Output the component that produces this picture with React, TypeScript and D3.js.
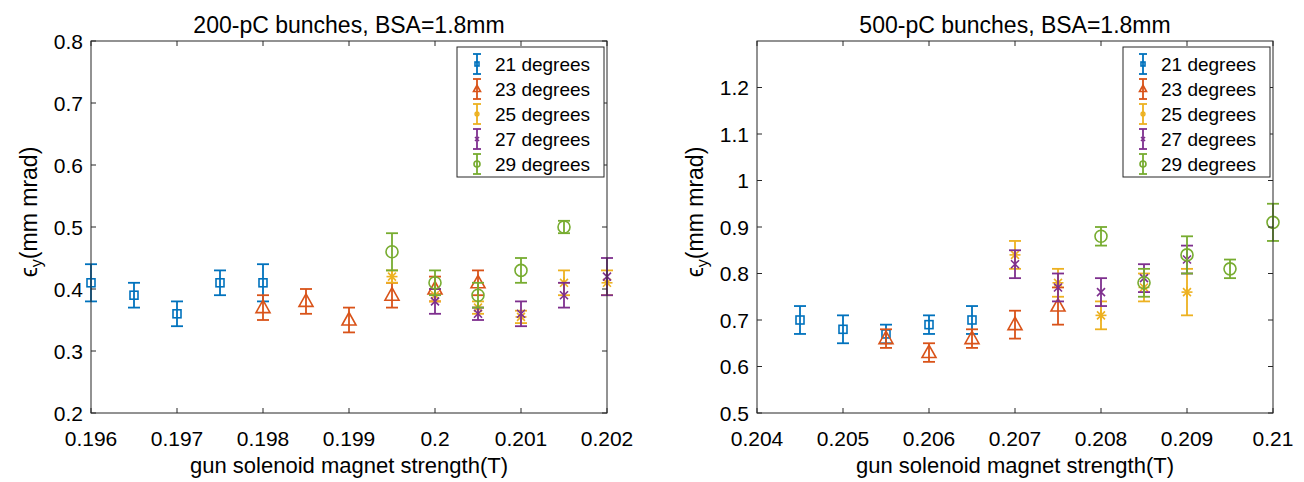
import React from "react";
import * as d3 from "d3";

const seriesLabels = ["21 degrees", "23 degrees", "25 degrees", "27 degrees", "29 degrees"];
const seriesColors = ["#0072BD", "#D95319", "#EDB120", "#7E2F8E", "#77AC30"];
const seriesMarkers = ["square", "triangle", "asterisk", "cross", "circle"];

// 200-pC panel
const a21x = [0.196, 0.1965, 0.197, 0.1975, 0.198];
const a21y = [0.41, 0.39, 0.36, 0.41, 0.41];
const a21e = [0.03, 0.02, 0.02, 0.02, 0.03];
const a23x = [0.198, 0.1985, 0.199, 0.1995, 0.2, 0.2005];
const a23y = [0.37, 0.38, 0.35, 0.39, 0.4, 0.41];
const a23e = [0.02, 0.02, 0.02, 0.02, 0.02, 0.02];
const a25x = [0.1995, 0.2, 0.2005, 0.201, 0.2015, 0.202];
const a25y = [0.42, 0.39, 0.37, 0.355, 0.41, 0.41];
const a25e = [0.01, 0.01, 0.01, 0.01, 0.02, 0.02];
const a27x = [0.2, 0.2005, 0.201, 0.2015, 0.202];
const a27y = [0.38, 0.36, 0.36, 0.39, 0.42];
const a27e = [0.02, 0.01, 0.02, 0.02, 0.03];
const a29x = [0.1995, 0.2, 0.2005, 0.201, 0.2015];
const a29y = [0.46, 0.41, 0.39, 0.43, 0.5];
const a29e = [0.03, 0.02, 0.02, 0.02, 0.01];

// 500-pC panel
const b21x = [0.2045, 0.205, 0.2055, 0.206, 0.2065];
const b21y = [0.7, 0.68, 0.67, 0.69, 0.7];
const b21e = [0.03, 0.03, 0.02, 0.02, 0.03];
const b23x = [0.2055, 0.206, 0.2065, 0.207, 0.2075];
const b23y = [0.66, 0.63, 0.66, 0.69, 0.73];
const b23e = [0.02, 0.02, 0.02, 0.03, 0.04];
const b25x = [0.207, 0.2075, 0.208, 0.2085, 0.209];
const b25y = [0.84, 0.78, 0.71, 0.77, 0.76];
const b25e = [0.03, 0.03, 0.03, 0.03, 0.05];
const b27x = [0.207, 0.2075, 0.208, 0.2085, 0.209];
const b27y = [0.82, 0.77, 0.76, 0.79, 0.83];
const b27e = [0.03, 0.03, 0.03, 0.03, 0.03];
const b29x = [0.208, 0.2085, 0.209, 0.2095, 0.21];
const b29y = [0.88, 0.78, 0.84, 0.81, 0.91];
const b29e = [0.02, 0.03, 0.04, 0.02, 0.04];

const leftXTicks = [0.196, 0.197, 0.198, 0.199, 0.2, 0.201, 0.202];
const leftYTicks = [0.2, 0.3, 0.4, 0.5, 0.6, 0.7, 0.8];
const rightXTicks = [0.204, 0.205, 0.206, 0.207, 0.208, 0.209, 0.21];
const rightYTicks = [0.5, 0.6, 0.7, 0.8, 0.9, 1, 1.1, 1.2];

const leftTitle = "200-pC bunches, BSA=1.8mm";
const rightTitle = "500-pC bunches, BSA=1.8mm";
const xLabel = "gun solenoid magnet strength(T)";

const FONT = "'Liberation Sans', Arial, Helvetica, sans-serif";
const AX = "#262626";

type Series = { x: number[]; y: number[]; e: number[] };

const leftSeries: Series[] = [
  { x: a21x, y: a21y, e: a21e },
  { x: a23x, y: a23y, e: a23e },
  { x: a25x, y: a25y, e: a25e },
  { x: a27x, y: a27y, e: a27e },
  { x: a29x, y: a29y, e: a29e },
];
const rightSeries: Series[] = [
  { x: b21x, y: b21y, e: b21e },
  { x: b23x, y: b23y, e: b23e },
  { x: b25x, y: b25y, e: b25e },
  { x: b27x, y: b27y, e: b27e },
  { x: b29x, y: b29y, e: b29e },
];

function Marker({ type, cx, cy, color, s = 1 }: { type: string; cx: number; cy: number; color: string; s?: number }) {
  const sw = 1.6;
  if (type === "square") {
    const h = 4 * s;
    return <rect x={cx - h} y={cy - h} width={2 * h} height={2 * h} fill="none" stroke={color} strokeWidth={sw} />;
  }
  if (type === "triangle") {
    const w = 7 * s;
    const pts = `${cx},${cy - 7.5 * s} ${cx - w},${cy + 5 * s} ${cx + w},${cy + 5 * s}`;
    return <polygon points={pts} fill="none" stroke={color} strokeWidth={sw} strokeLinejoin="miter" />;
  }
  if (type === "circle") {
    return <circle cx={cx} cy={cy} r={6 * s} fill="none" stroke={color} strokeWidth={sw} />;
  }
  if (type === "cross") {
    const r = 4 * s;
    return (
      <g stroke={color} strokeWidth={sw}>
        <line x1={cx - r} y1={cy - r} x2={cx + r} y2={cy + r} />
        <line x1={cx - r} y1={cy + r} x2={cx + r} y2={cy - r} />
      </g>
    );
  }
  // asterisk
  const r = 5.5 * s;
  const d = r * 0.72;
  return (
    <g stroke={color} strokeWidth={sw}>
      <line x1={cx} y1={cy - r} x2={cx} y2={cy + r} />
      <line x1={cx - r} y1={cy} x2={cx + r} y2={cy} />
      <line x1={cx - d} y1={cy - d} x2={cx + d} y2={cy + d} />
      <line x1={cx - d} y1={cy + d} x2={cx + d} y2={cy - d} />
    </g>
  );
}

type PanelProps = {
  x0: number; x1: number; y0: number; y1: number;
  xDomain: [number, number]; yDomain: [number, number];
  xTicks: number[]; yTicks: number[];
  series: Series[]; title: string; legendLeft: number;
};

function fmt(v: number) {
  return String(parseFloat(v.toFixed(4)));
}

function Panel({ x0, x1, y0, y1, xDomain, yDomain, xTicks, yTicks, series, title, legendLeft }: PanelProps) {
  const xs = d3.scaleLinear().domain(xDomain).range([x0, x1]);
  const ys = d3.scaleLinear().domain(yDomain).range([y1, y0]);
  const tl = 5;
  const cap = 6;
  const legTop = 47;
  const legW = 147;
  const legH = 130;
  const rowH = 25;
  return (
    <g fontFamily={FONT}>
      <text x={(x0 + x1) / 2} y={33} textAnchor="middle" fontSize={23} fill="#000">{title}</text>
      <rect x={x0} y={y0} width={x1 - x0} height={y1 - y0} fill="#fff" stroke="none" />
      {series.map((s, si) => (
        <g key={si}>
          {s.x.map((xv, i) => {
            const cx = xs(xv);
            const cy = ys(s.y[i]);
            const yt = ys(s.y[i] + s.e[i]);
            const yb = ys(s.y[i] - s.e[i]);
            return (
              <g key={i}>
                <g stroke={seriesColors[si]} strokeWidth={1.8}>
                  <line x1={cx} y1={yt} x2={cx} y2={yb} />
                  <line x1={cx - cap} y1={yt} x2={cx + cap} y2={yt} />
                  <line x1={cx - cap} y1={yb} x2={cx + cap} y2={yb} />
                </g>
                <Marker type={seriesMarkers[si]} cx={cx} cy={cy} color={seriesColors[si]} />
              </g>
            );
          })}
        </g>
      ))}
      <rect x={x0} y={y0} width={x1 - x0} height={y1 - y0} fill="none" stroke={AX} strokeWidth={1} />
      {xTicks.map((t, i) => (
        <g key={"xt" + i}>
          <line x1={xs(t)} x2={xs(t)} y1={y1} y2={y1 - tl} stroke={AX} />
          <line x1={xs(t)} x2={xs(t)} y1={y0} y2={y0 + tl} stroke={AX} />
          <text x={xs(t)} y={y1 + 33} textAnchor="middle" fontSize={21} fill="#000">{fmt(t)}</text>
        </g>
      ))}
      {yTicks.map((t, i) => (
        <g key={"yt" + i}>
          <line x1={x0} x2={x0 + tl} y1={ys(t)} y2={ys(t)} stroke={AX} />
          <line x1={x1} x2={x1 - tl} y1={ys(t)} y2={ys(t)} stroke={AX} />
          <text x={x0 - 8} y={ys(t)} dy="0.36em" textAnchor="end" fontSize={21} fill="#000">{fmt(t)}</text>
        </g>
      ))}
      <text x={(x0 + x1) / 2} y={473} textAnchor="middle" fontSize={22} fill="#000">{xLabel}</text>
      <text transform={`translate(${x0 - 54},212) rotate(-90)`} textAnchor="middle" fontSize={23} fill="#000">
        <tspan>ϵ</tspan>
        <tspan fontSize={16} dy={5}>y</tspan>
        <tspan dy={-5}>(mm mrad)</tspan>
      </text>
      <rect x={legendLeft} y={legTop} width={legW} height={legH} fill="#fff" stroke={AX} strokeWidth={1} />
      {seriesLabels.map((lab, i) => {
        const cy = legTop + 17 + i * rowH;
        const cx = legendLeft + 20;
        return (
          <g key={"lg" + i}>
            <g stroke={seriesColors[i]} strokeWidth={1.8}>
              <line x1={cx} y1={cy - 10} x2={cx} y2={cy + 10} />
              <line x1={cx - 4} y1={cy - 10} x2={cx + 4} y2={cy - 10} />
              <line x1={cx - 4} y1={cy + 10} x2={cx + 4} y2={cy + 10} />
            </g>
            <Marker type={seriesMarkers[i]} cx={cx} cy={cy} color={seriesColors[i]} s={0.5} />
            <text x={legendLeft + 38} y={cy} dy="0.36em" fontSize={19} fill="#000">{lab}</text>
          </g>
        );
      })}
    </g>
  );
}

export default function App() {
  return (
    <div style={{ position: "absolute", left: 0, top: 0 }}>
      <svg width={1304} height={482} style={{ display: "block", background: "#fff" }}>
        <rect width={1304} height={482} fill="#fff" />
        <Panel x0={91} x1={607} y0={41} y1={413} xDomain={[0.196, 0.202]} yDomain={[0.2, 0.8]}
          xTicks={leftXTicks} yTicks={leftYTicks} series={leftSeries} title={leftTitle} legendLeft={457} />
        <Panel x0={757} x1={1273} y0={41} y1={413} xDomain={[0.204, 0.21]} yDomain={[0.5, 1.3]}
          xTicks={rightXTicks} yTicks={rightYTicks} series={rightSeries} title={rightTitle} legendLeft={1123} />
      </svg>
    </div>
  );
}
